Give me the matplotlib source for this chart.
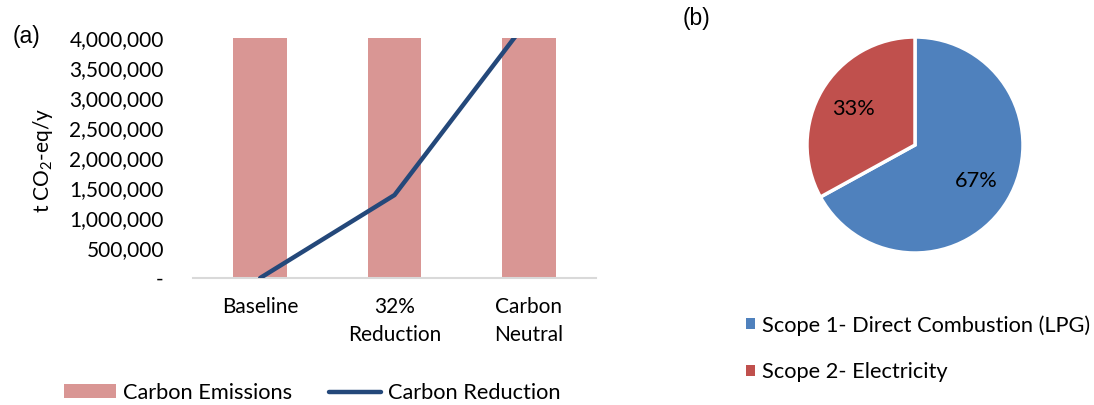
import matplotlib
matplotlib.use("Agg")
import matplotlib.pyplot as plt
from matplotlib.patches import Patch
from matplotlib.lines import Line2D
from matplotlib.ticker import FuncFormatter

# data (a)
scenarios = ["Baseline", "32%\nReduction", "Carbon\nNeutral"]
emissions = [4320000, 4320000, 4320000]
reduction = [0, 1382400, 4320000]

# data (b)
scope_labels = ["Scope 1- Direct Combustion (LPG)", "Scope 2- Electricity"]
scope_share = [67, 33]
scope_colors = ["#4F81BD", "#C0504D"]

bar_col = "#D99694"
line_col = "#24487A"

plt.rcParams["font.family"] = ["Lato", "DejaVu Sans"]
plt.rcParams["mathtext.fontset"] = "custom"
plt.rcParams["mathtext.rm"] = "Lato"
plt.rcParams["mathtext.default"] = "regular"
fs = 15
lfs = 15.7

fig = plt.figure(figsize=(10.94, 4.05), dpi=100)
W, H = 1094.0, 405.0

# ---- (a) bar + line
ax = fig.add_axes([193 / W, 127 / H, 403 / W, 240 / H])
x = list(range(len(scenarios)))
ax.bar(x, emissions, width=0.4, color=bar_col, label="Carbon Emissions", zorder=1)
ax.plot(x, reduction, color=line_col, lw=3.2, solid_capstyle="round",
        label="Carbon Reduction", zorder=3)
ax.set_xlim(-0.5, 2.5)
ax.set_ylim(0, 4000000)
ax.set_yticks(range(0, 4000001, 500000))
ax.yaxis.set_major_formatter(FuncFormatter(lambda v, p: "-" if v == 0 else "{:,.0f}".format(v)))
ax.set_xticks(x)
ax.set_xticklabels(scenarios, linespacing=1.45)
ax.tick_params(axis="both", length=0, labelsize=fs)
ax.tick_params(axis="y", pad=21)
ax.tick_params(axis="x", pad=14)
for s in ["top", "right", "left"]:
    ax.spines[s].set_visible(False)
ax.spines["bottom"].set_color("#D9D9D9")
ax.spines["bottom"].set_linewidth(1.5)
ax.spines["bottom"].set_zorder(2)

fig.text(43 / W, 1 - 160 / H, "t CO$_2$-eq/y", rotation=90, ha="center", va="center", fontsize=fs)
fig.text(26 / W, 1 - 36 / H, "(a)", ha="center", va="center", fontsize=16.5, family="Liberation Sans")

handles = [Patch(facecolor=bar_col), Line2D([0], [0], color=line_col, lw=3.2, solid_capstyle="round")]
fig.legend(handles, ["Carbon Emissions", "Carbon Reduction"], loc="center left",
           bbox_to_anchor=(64 / W, 1 - 393 / H), ncol=2, frameon=False, fontsize=lfs,
           handlelength=2.4, handleheight=0.6, handletextpad=0.3, columnspacing=1.7,
           borderpad=0, borderaxespad=0)

# ---- (b) pie
pax = fig.add_axes([(915 - 108) / W, (405 - 145 - 108) / H, 216 / W, 216 / H])
wedges, texts, autotexts = pax.pie(scope_share, colors=scope_colors, startangle=90,
                                   counterclock=False, autopct="%d%%", pctdistance=0.66,
                                   wedgeprops=dict(edgecolor="white", linewidth=2.5),
                                   textprops=dict(fontsize=lfs, color="black"))
pax.set_xlim(-1, 1)
pax.set_ylim(-1, 1)
pax.set_aspect("equal")
fig.text(697 / W, 1 - 19 / H, "(b)", ha="center", va="center", fontsize=16.5, family="Liberation Sans")

phandles = [Patch(facecolor=c) for c in scope_colors]
fig.legend(phandles, scope_labels, loc="upper left", bbox_to_anchor=(746 / W, 1 - 315 / H),
           frameon=False, fontsize=lfs, handlelength=0.42, handleheight=0.42,
           handletextpad=0.3, labelspacing=1.22, borderpad=0, borderaxespad=0)

fig.savefig("out.png", dpi=100)
